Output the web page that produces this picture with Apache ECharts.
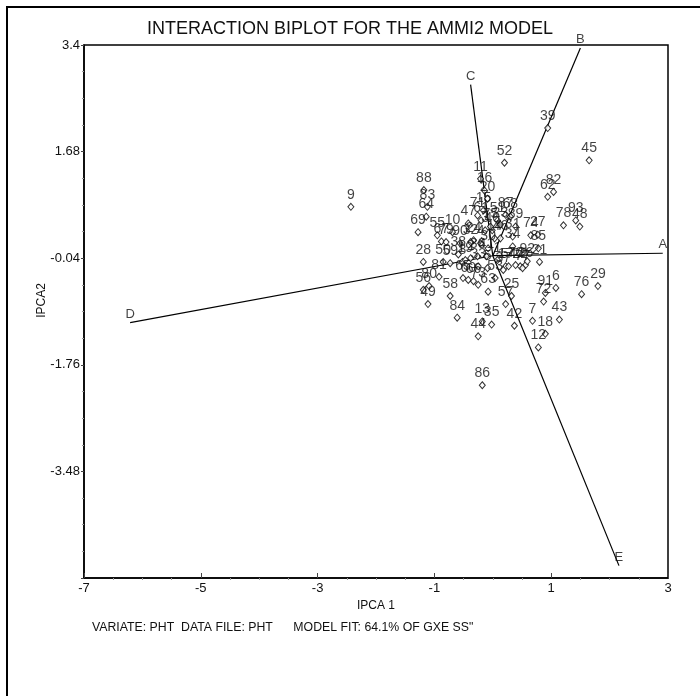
<!DOCTYPE html>
<html>
<head>
<meta charset="utf-8">
<script src="https://cdn.jsdelivr.net/npm/echarts@6/dist/echarts.min.js"></script>
<style>
  html, body { margin: 0; padding: 0; background: #fff; }
  #chart { width: 700px; height: 696px; }
</style>
</head>
<body>
<div id="chart"></div>
<script>
// Genotype scores (IPCA1, IPCA2)
const genoIds = [
  1, 2, 3, 4, 5, 6, 7, 8, 9, 10,
  11, 12, 13, 14, 15, 16, 17, 18, 19, 20,
  21, 22, 23, 24, 25, 26, 27, 28, 29, 30,
  31, 32, 33, 34, 35, 36, 37, 38, 39, 40,
  41, 42, 43, 44, 45, 46, 47, 48, 49, 50,
  51, 52, 53, 54, 55, 56, 57, 58, 59, 60,
  61, 62, 63, 64, 65, 66, 67, 68, 69, 70,
  71, 72, 73, 74, 75, 76, 77, 78, 79, 80,
  81, 82, 83, 84, 85, 86, 87, 88, 89, 90,
  91, 92, 93
];
const genoX = [
  0.08, -0.38, -0.13, -0.21, -0.09, 1.08, 0.68, -0.52, -2.43, -0.69,
  -0.21, 0.78, -0.18, 0.03, -0.16, -0.14, 0.22, 0.90, -0.47, -0.09,
  0.80, 0.47, 0.13, -0.33, 0.32, 0.56, 0.77, -1.19, 1.80, -0.08,
  0.34, -0.38, -0.25, 0.34, -0.02, -0.26, 0.18, -0.59, 0.94, -0.01,
  -0.11, 0.37, 1.14, -0.25, 1.65, 0.13, -0.42, 1.49, -1.11, -0.85,
  0.08, 0.20, 0.04, 0.27, -0.95, -1.19, 0.22, -0.73, -0.73, -0.42,
  -0.20, 0.94, -0.08, -1.14, -0.51, -0.33, -0.88, 0.30, -1.28, 0.39,
  -0.26, 0.87, -0.25, 0.65, -0.04, 1.52, 0.51, 1.21, -0.80, -1.09,
  -0.92, 1.04, -1.12, -0.61, 0.78, -0.18, 0.22, -1.18, 0.39, -0.56,
  0.90, 0.59, 1.42
];
const genoY = [
  -0.07, -0.04, 0.41, 0.20, -0.20, -0.52, -1.05, -0.10, 0.79, 0.38,
  1.24, -1.48, -1.06, 0.28, 0.73, 1.05, -0.17, -1.26, -0.07, 0.92,
  -0.10, -0.17, 0.50, 0.25, -0.65, -0.15, 0.34, -0.10, -0.49, 0.12,
  0.31, 0.22, -0.17, 0.15, -1.11, -0.01, -0.23, 0.02, 2.06, 0.41,
  -0.01, -1.13, -1.03, -1.30, 1.54, 0.28, 0.52, 0.47, -0.78, -0.10,
  0.57, 1.50, -0.36, -0.17, 0.33, -0.55, -0.78, -0.65, -0.12, -0.39,
  0.57, 0.95, -0.58, 0.63, -0.36, -0.41, 0.23, 0.63, 0.38, -0.15,
  0.65, -0.74, -0.47, 0.33, 0.47, -0.62, -0.20, 0.49, 0.22, -0.49,
  -0.34, 1.03, 0.79, -1.00, 0.12, -2.09, 0.66, 1.06, 0.47, 0.20,
  -0.60, -0.09, 0.57
];

// Environment vectors
const envNames = ['A', 'B', 'C', 'D', 'E'];
const envX = [2.91, 1.50, -0.38, -6.21, 2.16];
const envY = [0.04, 3.35, 2.76, -1.08, -5.00];

// Axis ranges (ticks counted from min)
const xMin = -7, xMax = 3, xStep = 2;
const yMin = -5.2, yMax = 3.4, yStep = 1.72;

const FONT = 'Liberation Sans, Arial, sans-serif';

const chart = echarts.init(document.getElementById('chart'));

const genoData = genoIds.map((id, i) => ({ name: String(id), value: [genoX[i], genoY[i]] }));

const vectorSeries = envNames.map((n, i) => ({
  type: 'line',
  name: 'vec-' + n,
  data: [[0, 0], [envX[i], envY[i]]],
  symbol: 'none',
  silent: true,
  lineStyle: { color: '#000', width: 1.2 },
  z: 3
}));

chart.setOption({
  animation: false,
  backgroundColor: '#fff',
  grid: {
    left: 84, top: 45, right: 32, bottom: 118,
    show: true, borderColor: '#000', borderWidth: 1.5, backgroundColor: 'transparent'
  },
  xAxis: {
    type: 'value', min: xMin, max: xMax, interval: xStep,
    name: 'IPCA 1', nameLocation: 'middle', nameGap: 19,
    nameTextStyle: { fontFamily: FONT, fontSize: 12, color: '#111' },
    axisLine: { show: true, onZero: false, lineStyle: { color: '#000', width: 1.5 } },
    axisTick: { show: true, inside: true, length: 5, lineStyle: { color: '#444' } },
    minorTick: { show: true, splitNumber: 4, length: -2, lineStyle: { color: '#999' } },
    axisLabel: { fontFamily: FONT, fontSize: 13, color: '#111', margin: 4 },
    splitLine: { show: false }
  },
  yAxis: {
    type: 'value', min: yMin, max: yMax, interval: yStep,
    name: 'IPCA2', nameLocation: 'middle', nameGap: 36, nameRotate: 90,
    nameMoveOverlap: false,
    nameTextStyle: { fontFamily: FONT, fontSize: 12, color: '#111', padding: [0, 0, 0, 22] },
    axisLine: { show: true, onZero: false, lineStyle: { color: '#000', width: 1.5 } },
    axisTick: { show: true, inside: false, length: 3, lineStyle: { color: '#444' } },
    minorTick: { show: true, splitNumber: 4, length: 2, lineStyle: { color: '#999' } },
    axisLabel: {
      fontFamily: FONT, fontSize: 13, color: '#111', margin: 4,
      showMinLabel: false,
      formatter: v => String(Math.round(v * 100) / 100)
    },
    splitLine: { show: false }
  },
  graphic: [
    { type: 'polyline', shape: { points: [[7, 696], [7, 7], [700, 7]] },
      style: { stroke: '#000', lineWidth: 2, fill: null }, silent: true },
    { type: 'text', left: 'center', top: 20,
      style: { text: 'INTERACTION BIPLOT FOR THE AMMI2 MODEL', font: '18px ' + FONT, fill: '#111' } },
    { type: 'text', left: 92, top: 622,
      style: { text: 'VARIATE: PHT  DATA FILE: PHT      MODEL FIT: 64.1% OF GXE SS"', font: '12.3px ' + FONT, fill: '#111' } }
  ],
  series: [
    ...vectorSeries,
    {
      type: 'scatter',
      name: 'environments',
      data: envNames.map((n, i) => ({ name: n, value: [envX[i], envY[i]] })),
      symbolSize: 0,
      silent: true,
      label: { show: true, position: 'top', distance: 2, formatter: p => p.name,
               fontFamily: FONT, fontSize: 13, color: '#111' },
      z: 4
    },
    {
      type: 'scatter',
      name: 'genotypes',
      data: genoData,
      symbol: 'diamond',
      symbolSize: [6, 7],
      itemStyle: { color: '#fff', borderColor: '#000', borderWidth: 1 },
      label: { show: true, position: 'top', distance: 1, formatter: p => p.name,
               fontFamily: FONT, fontSize: 14, color: '#111' },
      z: 5
    }
  ]
});
</script>
</body>
</html>
